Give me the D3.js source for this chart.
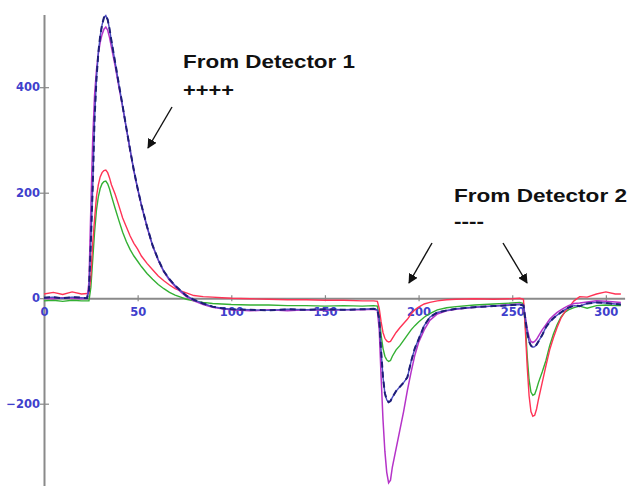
<!DOCTYPE html>
<html>
<head>
<meta charset="utf-8">
<script src="https://cdn.jsdelivr.net/npm/d3@7/dist/d3.min.js"></script>
<style>
  body { margin: 0; background: #fff; }
  .tick text { font-family: "DejaVu Sans", sans-serif; font-weight: bold; font-size: 11.5px; fill: #4040cc; }
  .note { font-family: "Liberation Sans", Arial, sans-serif; font-weight: bold; font-size: 18.5px; fill: #111; }
</style>
</head>
<body>
<div id="chart"></div>
<script>
// time axis (shared by all four traces)
var xs = [0,5,10,15,20,23,
  24,25,26,27,28,29,30,31,32,33,34,35,36,
  38,40,42,44,46,48,50,52,
  55,58,61,64,67,70,73,76,
  80,85,90,95,100,
  110,120,130,140,150,160,170,
  176,178,179,180,181,182,183,184,185,186,
  188,190,192,194,196,198,200,
  203,206,210,215,220,
  230,240,250,254,256,
  257,258,259,260,261,262,263,264,
  266,268,270,272,274,276,278,280,
  283,286,290,295,300,305,308];

var blueVals = [1,2,0,2,1,0,
  15,104,210,340,415,465,497,518,532,536,528,510,488,
  447,405,364,322,281,242,208,177,
  136,100,73,51,36,24,14,5,
  -3,-10,-16,-19,-21,
  -22,-23,-21,-22,-21,-22,-21,
  -20,-22,-40,-100,-150,-180,-193,-197,-195,-188,
  -176,-168,-160,-150,-120,-95,-78,
  -52,-36,-27,-23,-20,
  -17,-15,-13,-12,-14,
  -40,-65,-82,-90,-93,-92,-88,-82,
  -70,-55,-45,-38,-32,-27,-22,-18,
  -14,-15,-10,-8,-9,-11,-12];

var magentaVals = [0,-1,1,0,-1,0,
  30,170,300,385,432,463,485,500,510,514,508,494,476,
  440,400,362,321,280,241,207,176,
  135,99,72,50,34,22,12,3,
  -5,-12,-17,-20,-22,
  -24,-22,-24,-22,-23,-22,-22,
  -21,-23,-60,-150,-230,-290,-330,-350,-345,-320,
  -285,-250,-215,-175,-140,-108,-84,
  -60,-42,-30,-24,-21,
  -17,-15,-12,-11,-13,
  -35,-58,-74,-82,-84,-82,-78,-72,
  -60,-50,-40,-33,-27,-22,-18,-14,
  -10,-9,-7,-5,-6,-7,-8];

var redVals = [8,11,7,12,8,9,
  9,40,104,150,192,215,230,238,242,243,238,228,215,
  197,175,152,135,118,104,93,80,
  66,54,42,33,25,18,14,10,
  5,3,2,1,0,
  -1,-2,-3,-3,-4,-4,-5,
  -5,-6,-20,-45,-65,-76,-81,-83,-82,-76,
  -65,-56,-48,-40,-30,-22,-17,
  -11,-8,-5,-3,-2,
  -1,-2,-1,0,-2,
  -60,-130,-185,-215,-224,-222,-210,-192,
  -160,-128,-98,-75,-55,-38,-26,-18,
  -5,3,2,8,12,8,8];

var greenVals = [-5,-4,-6,-4,-5,-5,
  -5,20,72,125,167,192,208,217,221,222,217,207,194,
  170,147,125,107,92,80,70,60,
  47,36,26,18,11,6,2,-2,
  -5,-8,-10,-11,-12,
  -13,-13,-14,-14,-15,-14,-15,
  -14,-15,-35,-70,-95,-110,-117,-120,-118,-110,
  -98,-90,-80,-70,-60,-52,-45,
  -36,-29,-22,-18,-16,
  -13,-11,-9,-8,-10,
  -50,-110,-155,-178,-184,-182,-172,-160,
  -140,-118,-90,-68,-50,-36,-27,-22,
  -18,-15,-19,-14,-13,-14,-14];

var xTicks = [0, 50, 100, 150, 200, 250, 300];
var yTicks = [-200, 0, 200, 400];

var width = 630, height = 486;

var svg = d3.select("#chart").append("svg")
    .attr("width", width).attr("height", height);

var xScale = d3.scaleLinear().domain([0, 310]).range([44, 624.6]);
var yScale = d3.scaleLinear().domain([-356, 538]).range([486, 14.4]);

// axes: grey lines with short ticks crossing them
var yAxis = svg.append("g")
    .attr("transform", "translate(" + xScale(0) + ",0)")
    .call(d3.axisLeft(yScale).tickValues(yTicks).tickSizeInner(4).tickSizeOuter(0).tickPadding(0));
yAxis.selectAll(".tick line").attr("x1", 5).attr("x2", -4).attr("stroke", "#888").attr("stroke-width", 1.2);
yAxis.selectAll(".tick text").attr("x", -4);

var xAxis = svg.append("g")
    .attr("transform", "translate(0," + yScale(0) + ")")
    .call(d3.axisBottom(xScale).tickValues(xTicks).tickSizeInner(3).tickSizeOuter(0));
xAxis.selectAll(".tick line").attr("y1", -3).attr("y2", 3).attr("stroke", "#888").attr("stroke-width", 1.2);
xAxis.selectAll(".tick text").attr("y", 10);

svg.selectAll(".domain").attr("stroke", "#8a8a8a").attr("stroke-width", 2);

var line = d3.line()
    .x(function(d) { return xScale(d[0]); })
    .y(function(d) { return yScale(d[1]); });

function drawTrace(vals, colour, w, dash) {
  svg.append("path")
      .datum(d3.zip(xs, vals))
      .attr("fill", "none")
      .attr("stroke", colour)
      .attr("stroke-width", w)
      .attr("stroke-dasharray", dash)
      .attr("d", line);
}

drawTrace(greenVals, "#33b033", 1.4, null);
drawTrace(redVals, "#ff3355", 1.4, null);
drawTrace(magentaVals, "#b533c8", 1.5, null);
drawTrace(blueVals, "#4a4ac0", 1.4, null);
drawTrace(blueVals, "#1e1e78", 2, "6,4");

// annotations
svg.append("defs").append("marker")
    .attr("id", "head")
    .attr("viewBox", "0 0 10 10")
    .attr("refX", 9).attr("refY", 5)
    .attr("markerWidth", 7).attr("markerHeight", 7)
    .attr("orient", "auto")
  .append("path").attr("d", "M0,0L10,5L0,10z").attr("fill", "#111");

var arrows = [[172, 107, 148, 148], [432, 243, 409, 283], [503, 243, 527, 283]];
svg.selectAll(".arrow").data(arrows).enter().append("line")
    .attr("x1", function(d) { return d[0]; }).attr("y1", function(d) { return d[1]; })
    .attr("x2", function(d) { return d[2]; }).attr("y2", function(d) { return d[3]; })
    .attr("stroke", "#111").attr("stroke-width", 1.4)
    .attr("marker-end", "url(#head)");

var notes = [["From Detector 1", 183, 68, 172], ["++++", 183, 96, 51],
             ["From Detector 2", 454, 202, 173], ["----", 454, 228, 30]];
svg.selectAll(".note").data(notes).enter().append("text")
    .attr("class", "note")
    .attr("x", function(d) { return d[1]; })
    .attr("y", function(d) { return d[2]; })
    .attr("textLength", function(d) { return d[3]; })
    .attr("lengthAdjust", "spacingAndGlyphs")
    .text(function(d) { return d[0]; });
</script>
</body>
</html>
